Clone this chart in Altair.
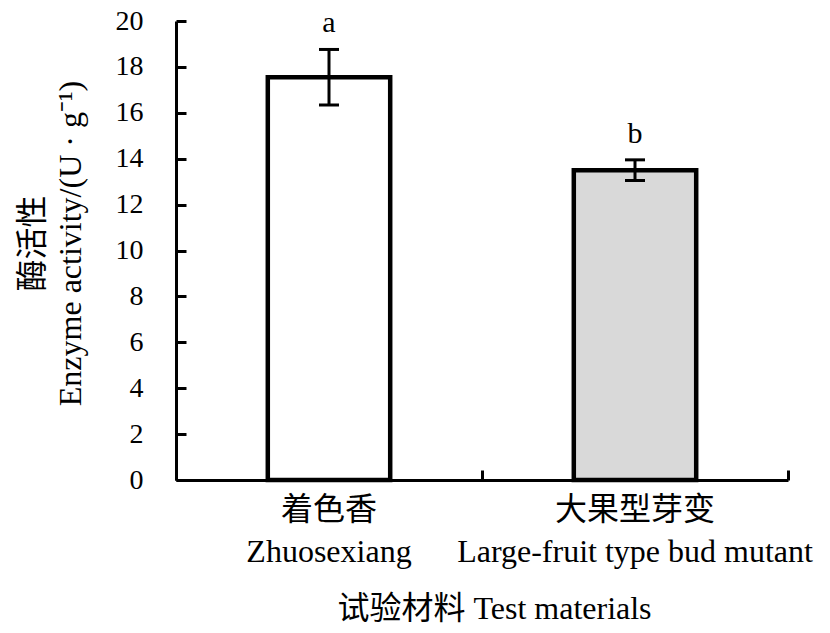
import altair as alt
import pandas as pd

categories = ["着色香|Zhuosexiang", "大果型芽变|Large-fruit type bud mutant"]
means = [17.55, 13.5]
errors = [1.21, 0.45]
letters = ["a", "b"]
fills = ["#ffffff", "#d9d9d9"]
y_ticks = [0, 2, 4, 6, 8, 10, 12, 14, 16, 18, 20]

df = pd.DataFrame({
    "cat": categories,
    "mean": means,
    "err": errors,
    "letter": letters,
    "fill": fills,
})
df["lo"] = df["mean"] - df["err"]
df["hi"] = df["mean"] + df["err"]

W, H = 612, 459
SERIF = "Liberation Serif, Noto Sans CJK SC"

xscale = alt.Scale(paddingInner=0, paddingOuter=0)
yscale = alt.Scale(domain=[0, 20], nice=False)

base = alt.Chart(df)

bars = base.mark_bar(width={"band": 0.4}, stroke="black", strokeWidth=4.5).encode(
    x=alt.X("cat:N", sort=categories, scale=xscale,
            axis=alt.Axis(title="试验材料 Test materials", ticks=False, tickSize=0,
                          labelExpr="split(datum.label, '|')", labelAngle=0,
                          labelFont=SERIF, labelFontSize=32, labelColor="black",
                          labelLineHeight=42, labelBaseline="top", labelPadding=14,
                          labelLimit=0, domainColor="black", domainWidth=3,
                          titleFont=SERIF, titleFontSize=32, titleFontWeight="normal",
                          titleColor="black", titleBaseline="alphabetic",
                          titleX=318, titleY=138, titleAlign="center")),
    y=alt.Y("mean:Q", scale=yscale,
            axis=alt.Axis(title=["酶活性", "Enzyme activity/(U · g⁻¹)"], values=y_ticks,
                          ticks=False, tickSize=0, grid=False, labelFont=SERIF,
                          labelFontSize=28, labelColor="black", labelPadding=33,
                          domainColor="black", domainWidth=3,
                          titleFont=SERIF, titleFontSize=32, titleFontWeight="normal",
                          titleColor="black", titleBaseline="alphabetic",
                          titleLineHeight=38, titleX=-134, titleY=222,
                          titleAlign="center", titleAngle=270)),
    fill=alt.Fill("fill:N", scale=None),
)

rules = base.mark_rule(strokeWidth=3, color="black").encode(
    x=alt.X("cat:N", sort=categories, scale=xscale,
            axis=alt.Axis(orient="top", offset=-H, tickBand="extent", ticks=True,
                          tickSize=10, tickWidth=3, tickColor="black", labels=False,
                          domain=False, title=None)),
    y=alt.Y("lo:Q", scale=yscale,
            axis=alt.Axis(orient="right", offset=-W, values=y_ticks, ticks=True,
                          tickSize=10, tickWidth=3, tickColor="black", labels=False,
                          domain=False, grid=False, title=None)),
    y2="hi:Q",
)

cap_lo = base.mark_tick(size=20, thickness=3, color="black", opacity=1).encode(
    x=alt.X("cat:N", sort=categories, scale=xscale, axis=None),
    y=alt.Y("lo:Q", scale=yscale, axis=None),
)
cap_hi = base.mark_tick(size=20, thickness=3, color="black", opacity=1).encode(
    x=alt.X("cat:N", sort=categories, scale=xscale, axis=None),
    y=alt.Y("hi:Q", scale=yscale, axis=None),
)

text = base.mark_text(font=SERIF, fontSize=30, color="black", baseline="alphabetic",
                      dy=-17).encode(
    x=alt.X("cat:N", sort=categories, scale=xscale, axis=None),
    y=alt.Y("hi:Q", scale=yscale, axis=None),
    text="letter:N",
)

chart = alt.layer(bars, rules, cap_lo, cap_hi, text).resolve_axis(
    x="independent", y="independent"
).properties(
    width=W, height=H,
    autosize=alt.AutoSizeParams(type="none"),
    padding={"left": 168, "top": 13, "right": 34, "bottom": 145},
    background="white",
).configure_view(stroke=None)

chart.save("out.html", embed_options={"renderer": "svg", "actions": False})
